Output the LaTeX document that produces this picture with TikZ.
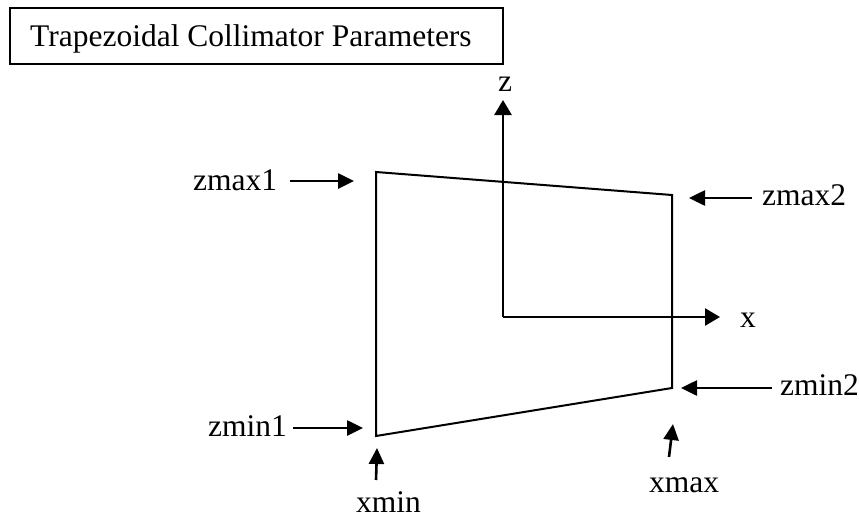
\documentclass[tikz,border=0pt]{standalone}
\usepackage{fontspec}
\setmainfont{Liberation Serif}
\usetikzlibrary{arrows.meta}
\begin{document}
\begin{tikzpicture}[x=1pt,y=-1pt,
  lbl/.style={inner sep=0pt,anchor=base west,font=\fontsize{31.5}{36}\selectfont},
  edge/.style={line width=2pt,line join=miter},
  pointer/.style={line width=2.6pt,-{Triangle[length=16pt,width=15pt]}},
  axis/.style={line width=2.6pt,-{Triangle[length=15pt,width=17pt]}}]
\useasboundingbox (0,0) rectangle (859,519);
% title
\draw[line width=1.6pt] (10,8) rectangle (503,64);
\node[lbl] (title) at (30,47) {Trapezoidal Collimator Parameters};
% trapezoid
\coordinate (tl) at (376,172);
\coordinate (bl) at (376,436);
\coordinate (tr) at (672,195);
\coordinate (br) at (672,388);
\draw[edge] (tl) -- (tr) -- (br) -- (bl) -- cycle;
% axes
\coordinate (o) at (503,317);
\coordinate (zt) at (503,100);
\coordinate (xt) at (720,317);
\draw[axis] (o) -- (zt);
\draw[axis] (o) -- (xt);
\node[lbl] (z) at (498,91) {z};
\node[lbl] (x) at (740,327) {x};
% labels
\node[lbl] (zmax1) at (193,190) {zmax1};
\node[lbl] (zmax2) at (762,205) {zmax2};
\node[lbl] (zmin1) at (208,436) {zmin1};
\node[lbl] (zmin2) at (780,395) {zmin2};
\node[lbl] (xmin) at (356,512) {xmin};
\node[lbl] (xmax) at (649,492) {xmax};
% pointers
\coordinate (a1s) at (290,181); \coordinate (a1e) at (354,181);
\coordinate (a2s) at (752,198); \coordinate (a2e) at (689,198);
\coordinate (a3s) at (293,428); \coordinate (a3e) at (363,428);
\coordinate (a4s) at (772,388); \coordinate (a4e) at (681,388);
\coordinate (a5s) at (376,480); \coordinate (a5e) at (377,448);
\coordinate (a6s) at (669,457); \coordinate (a6e) at (673,424);
\draw[pointer] (a1s) -- (a1e);
\draw[pointer] (a2s) -- (a2e);
\draw[pointer] (a3s) -- (a3e);
\draw[pointer] (a4s) -- (a4e);
\draw[pointer] (a5s) -- (a5e);
\draw[pointer] (a6s) -- (a6e);
\end{tikzpicture}
\end{document}
